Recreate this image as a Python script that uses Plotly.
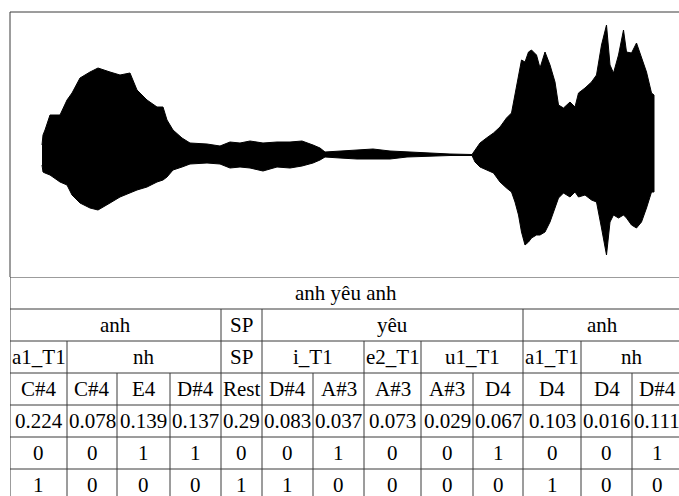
import plotly.graph_objects as go

# ---- Waveform envelope (time in ms, amplitude upper / lower bounds) ----
time_ms = [64, 66, 70, 80, 100, 114, 124, 140, 160, 176, 200, 220, 240, 254, 274,
           294, 306, 314, 326, 344, 360, 394, 420, 440, 460, 480, 506, 534, 560, 584,
           606, 620, 630, 660, 694, 726, 760, 794, 846, 880, 924,
           930, 940, 953, 967, 980, 993, 1003, 1010, 1017, 1023, 1030, 1037, 1043, 1053,
           1060, 1070, 1080, 1090, 1097, 1107, 1120, 1130, 1137, 1150, 1163, 1173, 1183,
           1193, 1200, 1207, 1217, 1227, 1233, 1243, 1253, 1263, 1273, 1283, 1288]
upper = [0.10, 0.20, 0.25, 0.40, 0.40, 0.55, 0.62, 0.77, 0.83, 0.87, 0.83, 0.80, 0.82, 0.65, 0.55,
         0.48, 0.48, 0.35, 0.25, 0.17, 0.12, 0.11, 0.09, 0.13, 0.12, 0.14, 0.12, 0.13, 0.13, 0.14,
         0.10, 0.07, 0.03, 0.04, 0.05, 0.06, 0.04, 0.03, 0.02, 0.01, 0.005,
         0.05, 0.12, 0.17, 0.22, 0.28, 0.37, 0.42, 0.60, 0.80, 0.95, 0.93, 1.03, 1.05, 1.00,
         0.87, 1.03, 0.90, 0.73, 0.50, 0.47, 0.53, 0.48, 0.62, 0.67, 0.73, 0.80, 1.10,
         1.30, 0.90, 0.82, 1.00, 1.25, 1.03, 1.02, 1.12, 0.97, 0.83, 0.62, 0.60]
lower = [-0.10, -0.17, -0.18, -0.20, -0.27, -0.30, -0.40, -0.48, -0.53, -0.55, -0.48, -0.42, -0.38, -0.35, -0.32,
         -0.27, -0.25, -0.22, -0.15, -0.12, -0.09, -0.08, -0.09, -0.13, -0.12, -0.13, -0.16, -0.12, -0.13, -0.11,
         -0.08, -0.05, -0.02, -0.03, -0.04, -0.04, -0.04, -0.02, -0.01, -0.005, -0.005,
         -0.07, -0.12, -0.15, -0.18, -0.27, -0.33, -0.37, -0.47, -0.60, -0.77, -0.90, -0.87, -0.83, -0.80,
         -0.80, -0.77, -0.67, -0.53, -0.43, -0.38, -0.42, -0.37, -0.42, -0.40, -0.45, -0.47, -0.73,
         -1.00, -0.67, -0.60, -0.63, -0.60, -0.63, -0.70, -0.73, -0.67, -0.53, -0.37, -0.37]

# ---- Annotation table ----
sentence = "anh yêu anh"
words = ["anh", "SP", "yêu", "anh"]
word_spans = [4, 1, 5, 3]
phonemes = ["a1_T1", "nh", "SP", "i_T1", "e2_T1", "u1_T1", "a1_T1", "nh"]
phoneme_spans = [1, 3, 1, 2, 1, 2, 1, 2]
notes = ["C#4", "C#4", "E4", "D#4", "Rest", "D#4", "A#3", "A#3", "A#3", "D4", "D4", "D4", "D#4"]
durations = [0.224, 0.078, 0.139, 0.137, 0.29, 0.083, 0.037, 0.073, 0.029, 0.067, 0.103, 0.016, 0.111]
slur_flags = [0, 0, 1, 1, 0, 0, 1, 0, 0, 1, 0, 0, 1]
word_start_flags = [1, 0, 0, 0, 1, 1, 0, 0, 0, 0, 1, 0, 0]

# column widths of the table (layout)
col_widths = [57, 50, 53, 51, 41, 51, 51, 57, 52, 50, 58, 51, 50]

W, H = 679, 496
LEFT, TOP, SPLIT, ROW_H = 10, 12, 277, 32
LINE = "#3a3a3a"
FONT = dict(family='"Liberation Serif", "Times New Roman", Times, "DejaVu Serif", serif',
            size=21, color="black")

fig = go.Figure()

# waveform as filled envelope polygon
fig.add_trace(go.Scatter(
    x=time_ms + time_ms[::-1],
    y=upper + lower[::-1],
    fill="toself", fillcolor="black",
    line=dict(color="black", width=1),
    mode="lines", hoverinfo="skip", showlegend=False,
    xaxis="x", yaxis="y",
))

edges = [0]
for w in col_widths:
    edges.append(edges[-1] + w)

shapes = []
annotations = []


def add_row(r, labels, spans):
    idx = 0
    for lab, sp in zip(labels, spans):
        x0, x1 = edges[idx], edges[idx + sp]
        annotations.append(dict(
            x=(x0 + x1) / 2, y=r + 0.5, xref="x2", yref="y2",
            text=str(lab), showarrow=False, xanchor="center", yanchor="middle",
            font=FONT,
        ))
        shapes.append(dict(type="line", xref="x2", yref="y2", x0=x0, x1=x0,
                           y0=r, y1=r + 1, line=dict(color=LINE, width=1)))
        idx += sp
    shapes.append(dict(type="line", xref="x2", yref="y2", x0=edges[idx], x1=edges[idx],
                       y0=r, y1=r + 1, line=dict(color=LINE, width=1)))


add_row(0, [sentence], [len(notes)])
add_row(1, words, word_spans)
add_row(2, phonemes, phoneme_spans)
add_row(3, notes, [1] * len(notes))
add_row(4, durations, [1] * len(notes))
add_row(5, slur_flags, [1] * len(notes))
add_row(6, word_start_flags, [1] * len(notes))

for r in range(0, 8):
    shapes.append(dict(type="line", xref="x2", yref="y2", x0=0, x1=edges[-1],
                       y0=r, y1=r, line=dict(color=LINE, width=1)))

# frame of the waveform panel (top and left edges)
shapes.append(dict(type="line", xref="paper", yref="paper", x0=LEFT / W, x1=1,
                   y0=1 - TOP / H, y1=1 - TOP / H, line=dict(color=LINE, width=1)))
shapes.append(dict(type="line", xref="paper", yref="paper", x0=LEFT / W, x1=LEFT / W,
                   y0=1 - SPLIT / H, y1=1 - TOP / H, line=dict(color=LINE, width=1)))

hidden = dict(showgrid=False, zeroline=False, showticklabels=False, ticks="", showline=False)

fig.update_layout(
    width=W, height=H,
    margin=dict(l=0, r=0, t=0, b=0),
    paper_bgcolor="white", plot_bgcolor="white",
    font=dict(family=FONT["family"]),
    xaxis=dict(domain=[LEFT / W, 1], range=[0, 1338], **hidden),
    yaxis=dict(domain=[1 - SPLIT / H, 1 - TOP / H], range=[-1.22, 1.43], **hidden),
    xaxis2=dict(domain=[LEFT / W, 1], range=[0, W - LEFT], anchor="y2", **hidden),
    yaxis2=dict(domain=[0, 1 - SPLIT / H], range=[(H - SPLIT) / ROW_H, 0], anchor="x2", **hidden),
    shapes=shapes,
    annotations=annotations,
    showlegend=False,
)

fig.write_html("out.html")
